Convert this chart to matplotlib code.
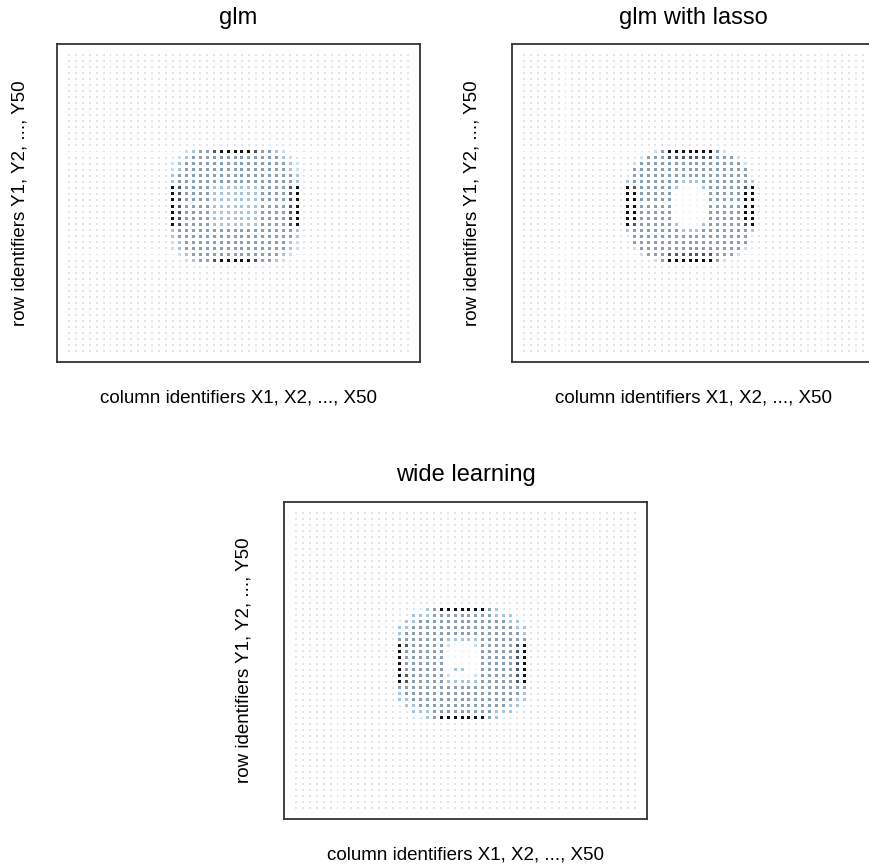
import matplotlib
matplotlib.use('Agg')
import matplotlib.pyplot as plt
import numpy as np

plt.rcParams['font.family'] = ['Liberation Sans', 'DejaVu Sans']

# 50 x 50 grid of coefficients, identifiers X1..X50 (columns), Y1..Y50 (rows)
col_ids = np.arange(1, 51)
row_ids = np.arange(1, 51)

# the non-zero estimates sit in a 19 x 19 window: rows Y17..Y35, columns X16..X34
win_first_row = 17
win_first_col = 16

# one char per point:
# '.' zero, '0' almost zero, '1'..'4' light blue -> dark slate, '5' black
glm_levels = [
    "..123345555543321..",
    ".12333333333333321.",
    "1233333333333333321",
    "1233333333333333321",
    "2333333333333333332",
    "2333333333333333332",
    "5433332222222333345",
    "5433332222222333345",
    "5433332222222333345",
    "5433332222222333345",
    "5433332222222333345",
    "5433332222222333345",
    "5433332222222333345",
    "2333333333333333332",
    "2333333333333333332",
    "1233333333333333321",
    "1233333333333333321",
    ".12333333333333321.",
    "..123345555543321..",
]

lasso_levels = [
    "....13555555531....",
    "..133344444443331..",
    ".13333333333333331.",
    ".33333333333333333.",
    ".33333333333333333.",
    "2333333322233333332",
    "5433333200023333345",
    "5533333000003333355",
    "5533333000003333355",
    "5533333000003333355",
    "5533333000003333355",
    "5533333000003333355",
    "5433333200023333345",
    "2333333322233333332",
    ".33333333333333333.",
    ".33333333333333333.",
    ".13333333333333331.",
    "..133344444443331..",
    "....13555555531....",
]

wide_levels = [
    "....23555555532....",
    "..222333333333222..",
    ".22333333333333322.",
    "2233333333333333322",
    "2333333333333333332",
    "3333333222223333333",
    "5433333100013333345",
    "5333333000003333345",
    "5333333000003333345",
    "5333333000003333345",
    "5333333022003333345",
    "5433333100013333345",
    "5433333222223333345",
    "3333333333333333333",
    "2333333333333333332",
    "2233333333333333322",
    ".22333333333333322.",
    "..222333333333222..",
    "....23555555532....",
]

panel_titles = ["glm", "glm with lasso", "wide learning"]
x_label = "column identifiers X1, X2, ..., X50"
y_label = "row identifiers Y1, Y2, ..., Y50"

level_colors = {
    '0': '#f1f5f9',
    '1': '#cde0f0',
    '2': '#a6c5df',
    '3': '#8a9fb5',
    '4': '#4c5866',
    '5': '#111111',
}
zero_color = '#e4e4e4'

W, H = 869, 868


def px(x, y):
    return x / W, 1 - y / H


def draw_panel(fig, rect, levels, title, title_xy, xlab_xy, ylab_xy):
    ax = fig.add_axes(rect)
    xx, yy = np.meshgrid(col_ids, row_ids)
    xx = xx.ravel()
    yy = yy.ravel()
    colors = np.array([zero_color] * xx.size, dtype=object)
    sizes = np.full(xx.size, 2.0)
    for i, line in enumerate(levels):
        for j, ch in enumerate(line):
            if ch == '.':
                continue
            k = (win_first_row - 1 + i) * len(col_ids) + (win_first_col - 1 + j)
            colors[k] = level_colors[ch]
            sizes[k] = 4.6 if ch != '0' else 2.0
    ax.scatter(xx, yy, s=sizes, c=list(colors), marker='s', linewidths=0)
    ax.set_xlim(1 - 1.73, 50 + 1.73)
    ax.set_ylim(50 + 1.75, 1 - 1.75)
    ax.set_xticks([])
    ax.set_yticks([])
    for sp in ax.spines.values():
        sp.set_linewidth(1.3)
        sp.set_color('#333333')
    fig.text(*px(*title_xy), title, fontsize=17, ha='center', va='center')
    fig.text(*px(*xlab_xy), x_label, fontsize=13.5, ha='center', va='center')
    fig.text(*px(*ylab_xy), y_label, fontsize=13.5, ha='center', va='center',
             rotation=90)
    return ax


fig = plt.figure(figsize=(W / 100, H / 100), dpi=100)

aw, ah = 363 / W, 318 / H
draw_panel(fig, [57 / W, (H - 362) / H, aw, ah], glm_levels, panel_titles[0],
           (238.5, 18), (238.5, 398), (20.5, 203))
draw_panel(fig, [512 / W, (H - 362) / H, aw, ah], lasso_levels, panel_titles[1],
           (693.5, 18), (693.5, 398), (472, 203))
draw_panel(fig, [284 / W, (H - 819) / H, aw, 317 / H], wide_levels, panel_titles[2],
           (465.5, 475), (465.5, 855), (244, 660.5))

fig.savefig('out.png', dpi=100)
